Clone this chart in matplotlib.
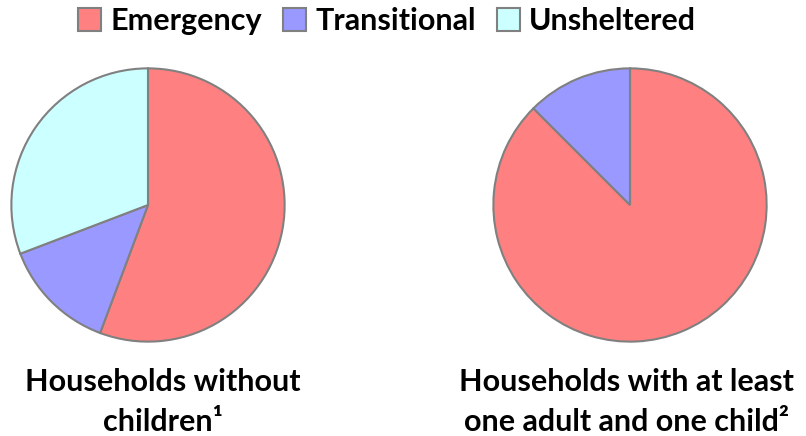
import matplotlib.pyplot as plt
from matplotlib.patches import Patch

categories = ['Emergency', 'Transitional', 'Unsheltered']
colors = ['#FF8080', '#9999FF', '#CCFFFF']
without_children = [55.7, 13.5, 30.8]
with_children = [87.5, 12.5, 0.0]
titles = ['Households without\nchildren\u00b9', 'Households with at least\none adult and one child\u00b2']

plt.rcParams['font.family'] = ['Lato', 'DejaVu Sans']

fig = plt.figure(figsize=(8.06, 4.36), dpi=100)

W, H = 806, 436
r = 138


def pie_axes(cx, cy):
    return fig.add_axes([(cx - r) / W, (H - cy - r) / H, 2 * r / W, 2 * r / H])


ax1 = pie_axes(148, 205)
ax2 = pie_axes(630, 205)

for ax, vals in [(ax1, without_children), (ax2, with_children)]:
    ax.pie(vals, colors=colors, startangle=90, counterclock=False,
           wedgeprops=dict(edgecolor='#808080', linewidth=1.5))
    ax.set_xlim(-1.01, 1.01)
    ax.set_ylim(-1.01, 1.01)
    ax.set_aspect('equal')

fig.text(163 / W, 1 - 402 / H, titles[0], ha='center', va='center',
         fontsize=22, fontweight='bold', linespacing=1.5)
fig.text(626 / W, 1 - 402 / H, titles[1], ha='center', va='center',
         fontsize=22, fontweight='bold', linespacing=1.5)

handles = [Patch(facecolor=c, edgecolor='#808080', linewidth=1.5) for c in colors]
fig.legend(handles, categories, loc='center', bbox_to_anchor=(387 / W, 1 - 21 / H),
           ncol=3, frameon=False, prop=dict(size=22, weight='bold'),
           handlelength=0.75, handleheight=0.75, handletextpad=0.3, columnspacing=0.7,
           borderpad=0)

fig.savefig('out.png', dpi=100)
